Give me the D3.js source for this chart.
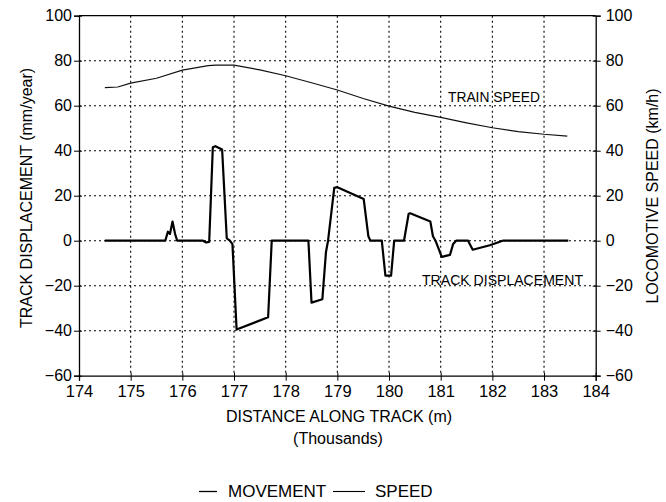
<!DOCTYPE html>
<html>
<head>
<meta charset="utf-8">
<script src="https://cdn.jsdelivr.net/npm/d3@7"></script>
<style>
  html, body { margin: 0; padding: 0; background: #fff; }
  svg { display: block; font-family: "Liberation Sans", Arial, Helvetica, sans-serif; }
</style>
</head>
<body>
<svg id="chart" width="666" height="502"></svg>
<script>
// Distance along track, in thousands of metres
const distanceTicks = [174, 175, 176, 177, 178, 179, 180, 181, 182, 183, 184];
const valueTicks = [-60, -40, -20, 0, 20, 40, 60, 80, 100];

// Locomotive speed (km/h) against distance
const speedDist = [174.5, 174.75, 175, 175.5, 176, 176.5, 176.65, 177, 177.5, 178, 178.5, 179, 179.5, 180, 180.5, 181, 181.5, 182, 182.5, 183, 183.45];
const speedKmh  = [68, 68.3, 70, 72.2, 75.8, 77.8, 78, 78, 75.9, 73.3, 70.2, 67, 63.2, 59.8, 57, 54.8, 52.4, 50.2, 48.5, 47.3, 46.5];

// Track displacement (mm/year) against distance
const moveDist = [174.5, 175.67, 175.72, 175.76, 175.81, 175.86, 175.9, 176.4, 176.46, 176.52, 176.59, 176.64, 176.77, 176.86, 176.92, 176.97, 177.05,
                  177.66, 177.73, 178.44, 178.5, 178.71, 178.78, 178.82, 178.94, 179.0, 179.51, 179.6, 179.64, 179.86, 179.93, 180.04, 180.1,
                  180.29, 180.38, 180.41, 180.8, 180.85, 180.9, 180.95, 181.02, 181.18, 181.24, 181.3, 181.53, 181.62, 181.95, 182.2, 183.47];
const moveMm   = [0, 0, 4, 3, 8.5, 3, 0, 0, -0.8, -0.5, 41.5, 42, 40.5, 1, 0, -1.5, -39.5,
                  -34, 0, 0, -27.5, -26, -5, 0, 23.5, 23.8, 18.5, 2, 0, 0, -15.5, -15.5, 0,
                  0, 12, 12.2, 8.5, 2, 0, -3, -7.2, -6.3, -1.5, 0, 0, -4, -2, 0, 0];

const svg = d3.select("#chart");
const plotL = 79, plotR = 595.7, plotT = 15.7, plotB = 375.7;

const x = d3.scaleLinear().domain([174, 184]).range([plotL, plotR]);
const y = d3.scaleLinear().domain([-60, 100]).range([plotB, plotT]);      // track displacement
const y2 = d3.scaleLinear().domain([-60, 100]).range([plotB, plotT]);     // locomotive speed

// Dotted grid
const grid = svg.append("g").attr("stroke", "#000").attr("stroke-width", 1.1).attr("stroke-dasharray", "2,3");
grid.selectAll("line.v").data(distanceTicks.slice(1, -1)).join("line").attr("class", "v")
  .attr("x1", d => x(d)).attr("x2", d => x(d)).attr("y1", plotT).attr("y2", plotB);
grid.selectAll("line.h").data(valueTicks.slice(1, -1)).join("line").attr("class", "h")
  .attr("x1", plotL).attr("x2", plotR).attr("y1", d => y(d)).attr("y2", d => y(d));

// Frame top
svg.append("line").attr("x1", plotL).attr("x2", plotR).attr("y1", plotT).attr("y2", plotT)
  .attr("stroke", "#000").attr("stroke-width", 1.3);

// Axes
const fmt = d3.format("d");
const gx = svg.append("g").attr("transform", `translate(0,${plotB})`)
  .call(d3.axisBottom(x).tickValues(distanceTicks).tickFormat(fmt).tickSize(5).tickPadding(4));
gx.selectAll(".tick line").attr("y1", -3);
gx.selectAll(".tick text").attr("font-size", 16.5).attr("y", 10);

const gy = svg.append("g").attr("transform", `translate(${plotL},0)`)
  .call(d3.axisLeft(y).tickValues(valueTicks).tickFormat(fmt).tickSize(5).tickPadding(2));
gy.selectAll(".tick line").attr("x1", 3);
gy.selectAll(".tick text").attr("font-size", 16);

const gy2 = svg.append("g").attr("transform", `translate(${plotR},0)`)
  .call(d3.axisRight(y2).tickValues(valueTicks).tickFormat(fmt).tickSize(5).tickPadding(5));
gy2.selectAll(".tick line").attr("x1", -3);
gy2.selectAll(".tick text").attr("font-size", 16);

[gx, gy, gy2].forEach(g => {
  g.select(".domain").attr("stroke", "#000").attr("stroke-width", 1.3);
  g.selectAll(".tick line").attr("stroke", "#000");
  g.selectAll(".tick text").attr("fill", "#000").attr("font-family", "Liberation Sans, Arial, sans-serif");
});

// Speed line
const speedLine = d3.line().x(d => x(d[0])).y(d => y2(d[1]));
svg.append("path").datum(d3.zip(speedDist, speedKmh))
  .attr("fill", "none").attr("stroke", "#111").attr("stroke-width", 1.2).attr("d", speedLine);

// Displacement line
const moveLine = d3.line().x(d => x(d[0])).y(d => y(d[1]));
svg.append("path").datum(d3.zip(moveDist, moveMm))
  .attr("fill", "none").attr("stroke", "#000").attr("stroke-width", 2.2)
  .attr("stroke-linejoin", "round").attr("d", moveLine);

// In-plot annotations
svg.append("text").attr("x", 448).attr("y", 101.5).attr("font-size", 15)
  .attr("textLength", 92).attr("lengthAdjust", "spacingAndGlyphs").text("TRAIN SPEED");
svg.append("text").attr("x", 422).attr("y", 285).attr("font-size", 15)
  .attr("textLength", 161).attr("lengthAdjust", "spacingAndGlyphs").text("TRACK DISPLACEMENT");

// Axis titles
svg.append("text").attr("x", 339).attr("y", 421.5).attr("text-anchor", "middle")
  .attr("font-size", 16).text("DISTANCE ALONG TRACK (m)");
svg.append("text").attr("x", 338).attr("y", 444).attr("text-anchor", "middle")
  .attr("font-size", 16).text("(Thousands)");
svg.append("text").attr("transform", "translate(32.3,198) rotate(-90)").attr("text-anchor", "middle")
  .attr("font-size", 16).text("TRACK DISPLACEMENT (mm/year)");
svg.append("text").attr("transform", "translate(658.3,196) rotate(-90)").attr("text-anchor", "middle")
  .attr("font-size", 16).text("LOCOMOTIVE SPEED (km/h)");

// Legend
const legend = svg.append("g");
legend.append("line").attr("x1", 199).attr("x2", 217).attr("y1", 491.5).attr("y2", 491.5)
  .attr("stroke", "#000").attr("stroke-width", 1.3);
legend.append("text").attr("x", 228).attr("y", 497).attr("font-size", 17).text("MOVEMENT");
legend.append("line").attr("x1", 333).attr("x2", 365).attr("y1", 491.5).attr("y2", 491.5)
  .attr("stroke", "#000").attr("stroke-width", 1.1);
legend.append("text").attr("x", 375).attr("y", 497).attr("font-size", 17).text("SPEED");
</script>
</body>
</html>
